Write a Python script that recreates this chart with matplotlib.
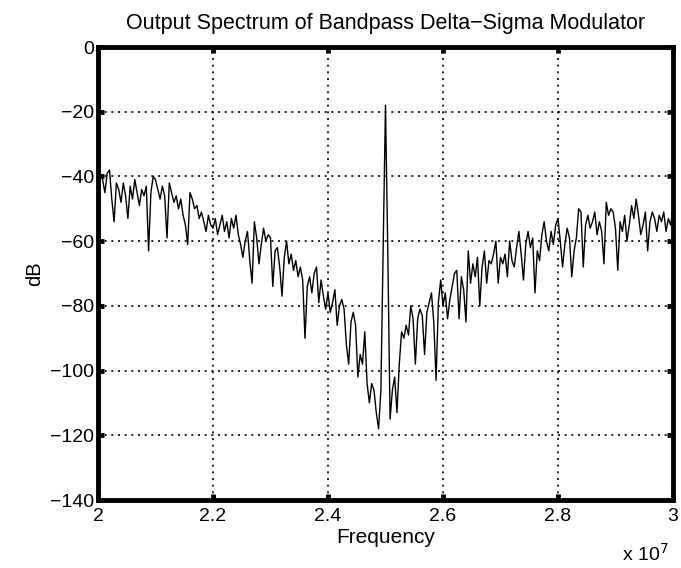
import numpy as np
import matplotlib
matplotlib.use('Agg')
import matplotlib.pyplot as plt
from matplotlib.ticker import FuncFormatter

# frequency bins of the plotted band, 2.0e7 .. 3.0e7 Hz
freq = np.linspace(2.0e7, 3.0e7, 251)

# output power (dB) in each bin
spec_db = [
  -50, -39, -41, -45, -39, -38, -47, -54, -42, -44,
  -48, -42, -46, -53, -43, -47, -41, -45, -49, -44,
  -46, -43, -63, -45, -40, -41, -44, -47, -43, -46,
  -59, -42, -45, -48, -46, -50, -47, -52, -55, -61,
  -45, -47, -50, -49, -53, -51, -54, -57, -52, -55,
  -56, -53, -58, -55, -52, -57, -54, -59, -53, -56,
  -52, -58, -61, -65, -60, -57, -66, -73, -54, -59,
  -67, -61, -56, -60, -58, -59, -74, -63, -62, -68,
  -77, -65, -60, -67, -64, -69, -66, -71, -68, -72,
  -90, -74, -71, -76, -70, -68, -79, -72, -77, -81,
  -76, -82, -79, -75, -86, -80, -78, -81, -92, -98,
  -85, -82, -86, -102, -95, -98, -88, -104, -110, -104,
  -106, -113, -118, -106, -63, -18, -63, -115, -106, -102,
  -113, -98, -88, -90, -86, -89, -80, -84, -98, -84,
  -81, -83, -95, -82, -79, -76, -85, -103, -79, -72,
  -80, -76, -84, -78, -74, -70, -69, -84, -71, -75,
  -85, -63, -73, -67, -71, -65, -80, -68, -63, -73,
  -66, -67, -64, -60, -73, -65, -67, -64, -71, -60,
  -66, -68, -62, -57, -64, -72, -61, -57, -62, -59,
  -76, -63, -66, -58, -54, -60, -63, -57, -61, -55,
  -53, -60, -68, -61, -56, -59, -71, -63, -59, -50,
  -51, -68, -55, -52, -56, -54, -51, -58, -54, -57,
  -67, -48, -52, -50, -51, -56, -69, -54, -57, -52,
  -60, -55, -49, -53, -47, -52, -58, -55, -51, -63,
  -54, -51, -53, -57, -52, -54, -51, -57, -53, -55,
  -50,
]

yticks = [0, -20, -40, -60, -80, -100, -120, -140]
xticks = [2.0e7, 2.2e7, 2.4e7, 2.6e7, 2.8e7, 3.0e7]

plt.rcParams['font.family'] = ['Liberation Sans', 'DejaVu Sans']

fig = plt.figure(figsize=(6.81, 5.68), dpi=100)
ax = fig.add_axes([0.1439, 0.1197, 0.8443, 0.7975])

ax.plot(freq, spec_db, color='black', lw=1.0)

ax.set_xlim(2.0e7, 3.0e7)
ax.set_ylim(-140, 0)
ax.set_xticks(xticks)
ax.set_yticks(yticks)
ax.xaxis.set_major_formatter(FuncFormatter(lambda v, p: '%g' % (v/1.0e7)))

ax.grid(True, color='black', lw=1.2, linestyle=(0, (1.2, 2.8)))

for sp in ax.spines.values():
  sp.set_linewidth(3.5)
ax.tick_params(direction='in', length=4, width=3.5, top=True, right=True,
               labelsize=14, pad=3)
ax.tick_params(axis='x', pad=6)

ax.set_title('Output Spectrum of Bandpass Delta\u2212Sigma Modulator',
             fontsize=15.5, pad=13)
ax.set_xlabel('Frequency', fontsize=15, labelpad=2)
ax.set_ylabel('dB', fontsize=14.5, labelpad=4)
ax.text(0.993, -0.118, r'x 10$^7$', transform=ax.transAxes, fontsize=14,
        ha='right', va='center')

fig.savefig('out.png', dpi=100)
